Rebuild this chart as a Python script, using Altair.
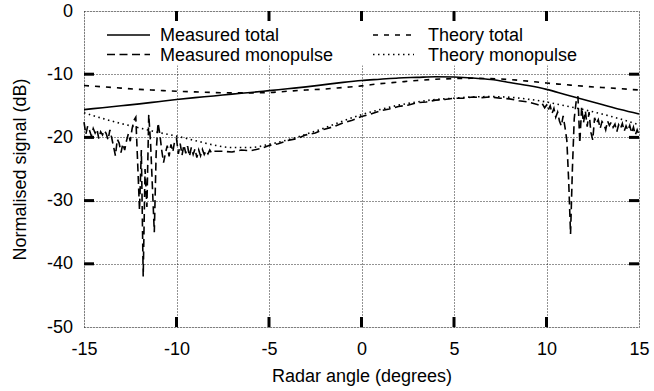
import altair as alt
import numpy as np
import pandas as pd

# ---------------- data ----------------
series_names = ["Measured total", "Measured monopulse", "Theory total", "Theory monopulse"]

angle_deg = list(range(-15, 16))
measured_total_db = [-15.6, -15.3, -15.0, -14.7, -14.35, -14.0, -13.7, -13.45, -13.15, -12.9,
                     -12.6, -12.3, -12.0, -11.65, -11.3, -11.0, -10.8, -10.6, -10.5, -10.4,
                     -10.45, -10.6, -10.85, -11.3, -11.8, -12.4, -13.2, -14.0, -14.8, -15.6,
                     -16.3]
theory_total_db = [-11.8, -12.0, -12.2, -12.4, -12.55, -12.7, -12.8, -12.9, -12.95, -12.95,
                   -12.9, -12.7, -12.5, -12.35, -12.1, -11.85, -11.5, -11.25, -11.0, -10.8,
                   -10.7, -10.65, -10.7, -10.85, -11.1, -11.4, -11.65, -11.9, -12.1, -12.3,
                   -12.5]
theory_monopulse_db = [-16.1, -17.0, -17.8, -18.5, -19.2, -19.8, -20.5, -21.2, -21.6, -21.6,
                       -21.1, -20.4, -19.5, -18.5, -17.4, -16.4, -15.6, -14.9, -14.4, -14.0,
                       -13.8, -13.6, -13.55, -13.65, -13.95, -14.4, -15.0, -15.6, -16.3, -17.1,
                       -18.0]

# measured monopulse: noisy left part (-15.0 .. -8.0, every 0.1 deg)
mono_angle_left = np.round(np.arange(-15.0, -7.95, 0.1), 1)
mono_db_left = [-17.6, -19.5, -18.2, -18.9, -19.8, -18.6, -19.3, -18.7, -20.2, -19.1,
                -19.6, -18.9, -19.4, -20.4, -18.8, -20.1, -21.5, -22.9, -20.3, -20.9,
                -22.4, -21.0, -22.0, -20.5, -19.4, -20.6, -18.6, -17.3, -16.8, -24.0,
                -31.5, -22.0, -42.0, -25.0, -31.0, -16.4, -21.0, -28.0, -35.0, -22.5,
                -17.7, -19.5, -22.0, -24.0, -22.5, -21.3, -23.0, -21.1, -22.3, -20.6,
                -20.2, -22.6, -21.0, -22.8, -21.2, -22.5, -21.4, -23.0, -21.6, -22.7,
                -21.8, -23.2, -22.0, -22.9, -21.9, -22.7, -22.1, -22.6, -22.0, -22.5,
                -22.2]
# smooth middle part (-7.5 .. 9.0, every 0.5 deg)
mono_angle_mid = np.round(np.arange(-7.5, 9.25, 0.5), 1)
mono_db_mid = [-22.2, -22.3, -22.0, -22.1, -21.8, -21.3, -21.0, -20.5, -20.2, -19.6,
               -19.3, -18.7, -18.3, -17.7, -17.3, -16.7, -16.3, -15.8, -15.5, -15.1,
               -14.9, -14.5, -14.4, -14.1, -14.0, -13.8, -13.8, -13.6, -13.7, -13.6,
               -13.8, -13.9, -14.2, -14.4]
# noisy right part (9.5 .. 15.0, every 0.1 deg)
mono_angle_right = np.round(np.arange(9.5, 15.05, 0.1), 1)
mono_db_right = [-14.8, -14.9, -15.1, -14.8, -15.3,
                 -14.9, -15.6, -15.0, -16.2, -15.4, -16.8, -16.0, -17.4, -18.2, -16.6,
                 -18.4, -20.5, -27.0, -35.3, -25.0, -17.0, -14.4, -13.5, -20.9, -15.2,
                 -17.7, -15.8, -18.3, -16.0, -19.2, -20.4, -16.9, -17.8, -17.2, -18.6,
                 -17.5, -17.9, -18.8, -17.4, -18.1, -17.6, -18.4, -17.9, -19.1, -18.0,
                 -18.6, -17.8, -19.0, -18.2, -18.9, -18.1, -19.3, -18.4, -19.6, -18.8,
                 -19.6]

x_ticks = [-15, -10, -5, 0, 5, 10, 15]
y_ticks = [-50, -40, -30, -20, -10, 0]

# ---------------- layout / style ----------------
W, H = 555, 316
FONT = "Liberation Sans"
FS = 18
LW = 1.6
dashes = {
    "Measured total": None,
    "Measured monopulse": [8, 4.5],
    "Theory total": [5, 6],
    "Theory monopulse": [1.5, 3.5],
}

xs = alt.Scale(domain=[-15, 15], nice=False, zero=False)
ys = alt.Scale(domain=[-50, 0], nice=False, zero=False)

xaxis = alt.Axis(values=x_ticks, title="Radar angle (degrees)", grid=True,
                 gridDash=[1, 2], gridColor="#000", gridWidth=1, gridOpacity=0.85,
                 domain=False, ticks=False, labelFont=FONT, labelFontSize=FS,
                 labelColor="black", labelPadding=27, labelBaseline="alphabetic",
                 labelFlush=False, labelOverlap=False, labelExpr="'' + datum.value",
                 titleFont=FONT, titleFontSize=FS, titleFontWeight="normal",
                 titleColor="black", titleX=W / 2, titleY=54.5,
                 titleBaseline="alphabetic", titleAlign="center")
yaxis = alt.Axis(values=y_ticks, title="Normalised signal (dB)", grid=True,
                 gridDash=[1, 2], gridColor="#000", gridWidth=1, gridOpacity=0.85,
                 domain=False, ticks=False, labelFont=FONT, labelFontSize=FS,
                 labelColor="black", labelPadding=11.5, labelBaseline="middle",
                 labelAlign="right", labelFlush=False, labelOverlap=False,
                 labelExpr="'' + datum.value",
                 titleFont=FONT, titleFontSize=FS, titleFontWeight="normal",
                 titleColor="black", titleX=-64, titleY=H / 2, titleAngle=-90,
                 titleBaseline="middle", titleAlign="center")


def X():
    return alt.X("angle:Q", scale=xs, axis=xaxis)


def Y():
    return alt.Y("db:Q", scale=ys, axis=yaxis)


frames = {
    "Measured total": pd.DataFrame({"angle": angle_deg, "db": measured_total_db}),
    "Measured monopulse": pd.DataFrame({
        "angle": list(mono_angle_left) + list(mono_angle_mid) + list(mono_angle_right),
        "db": mono_db_left + mono_db_mid + mono_db_right}),
    "Theory total": pd.DataFrame({"angle": angle_deg, "db": theory_total_db}),
    "Theory monopulse": pd.DataFrame({"angle": angle_deg, "db": theory_monopulse_db}),
}

layers = []

# opaque key background (hides grid behind the key, as in the original)
layers.append(
    alt.Chart(pd.DataFrame({"k": [0]})).mark_rect(color="white").encode(
        x=alt.value(14), x2=alt.value(505), y=alt.value(2), y2=alt.value(54.5))
)

for name in series_names:
    kw = dict(color="black", strokeWidth=LW,
              interpolate="linear" if name == "Measured monopulse" else "monotone")
    if dashes[name]:
        kw["strokeDash"] = dashes[name]
    layers.append(alt.Chart(frames[name]).mark_line(**kw).encode(x=X(), y=Y()))

# inward major ticks (gnuplot style)
TL = 10
xt = pd.DataFrame({"angle": x_ticks[1:-1]})
yt = pd.DataFrame({"db": y_ticks[1:-1]})
tick = dict(color="black", strokeWidth=3)
layers.append(alt.Chart(xt).mark_rule(**tick).encode(x=X(), y=alt.value(0), y2=alt.value(TL)))
layers.append(alt.Chart(xt).mark_rule(**tick).encode(x=X(), y=alt.value(H), y2=alt.value(H - TL)))
layers.append(alt.Chart(yt).mark_rule(**tick).encode(y=Y(), x=alt.value(0), x2=alt.value(TL)))
layers.append(alt.Chart(yt).mark_rule(**tick).encode(y=Y(), x=alt.value(W), x2=alt.value(W - TL)))

# key (two columns, two rows)
key_sample_x = [(23, 66), (289, 330)]
key_text_x = [76, 344]
key_line_y = [24, 43.5]
key_text_y = [30, 49.5]
one = pd.DataFrame({"k": [0]})
for i, name in enumerate(series_names):
    c, r = i // 2, i % 2
    kw = dict(color="black", strokeWidth=LW)
    if dashes[name]:
        kw["strokeDash"] = dashes[name]
    layers.append(alt.Chart(one).mark_rule(**kw).encode(
        x=alt.value(key_sample_x[c][0]), x2=alt.value(key_sample_x[c][1]),
        y=alt.value(key_line_y[r])))
    layers.append(alt.Chart(one).mark_text(
        text=name, font=FONT, fontSize=FS, color="black", align="left",
        baseline="alphabetic").encode(x=alt.value(key_text_x[c]), y=alt.value(key_text_y[r])))

chart = alt.layer(*layers).properties(
    width=W, height=H,
    autosize=alt.AutoSizeParams(type="none"),
    padding={"left": 84, "top": 11, "right": 15, "bottom": 64},
).configure_view(stroke="black", strokeWidth=3).configure(font=FONT)

chart.save("out.html", embed_options={"renderer": "svg", "actions": False})
